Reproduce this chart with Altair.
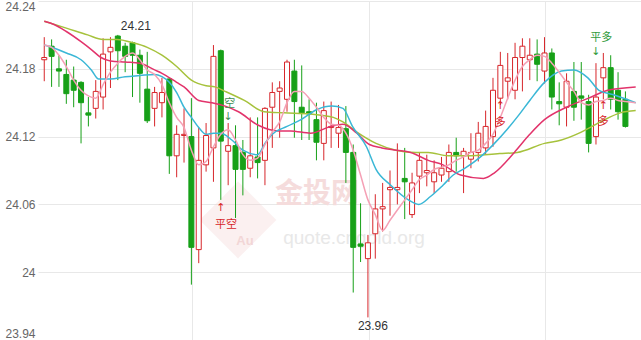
import altair as alt
import pandas as pd

# ---------------- data ----------------
opens = [24.188, 24.200, 24.180, 24.175, 24.170, 24.168, 24.141, 24.145, 24.155, 24.195,
         24.209, 24.200, 24.203, 24.192, 24.162, 24.145, 24.150, 24.171, 24.103, 24.121,
         24.120, 24.020, 24.095, 24.110, 24.196, 24.107, 24.112, 24.106, 24.092, 24.102,
         24.099, 24.146, 24.160, 24.153, 24.178, 24.146, 24.142, 24.135, 24.114, 24.128,
         24.123, 24.127, 24.106, 24.025, 24.012, 24.034, 24.056, 24.073, 24.073, 24.083,
         24.051, 24.085, 24.088, 24.080, 24.086, 24.089, 24.106, 24.103, 24.100, 24.106,
         24.110, 24.120, 24.154, 24.169, 24.161, 24.190, 24.188, 24.193, 24.178, 24.194,
         24.151, 24.146, 24.160, 24.156, 24.151, 24.120, 24.172, 24.181, 24.161, 24.153]
highs = [24.208, 24.206, 24.192, 24.188, 24.182, 24.169, 24.155, 24.170, 24.207, 24.208,
         24.210, 24.203, 24.204, 24.197, 24.195, 24.164, 24.172, 24.172, 24.130, 24.145,
         24.154, 24.128, 24.132, 24.201, 24.197, 24.132, 24.130, 24.117, 24.137, 24.137,
         24.146, 24.168, 24.169, 24.188, 24.188, 24.183, 24.153, 24.150, 24.151, 24.151,
         24.148, 24.147, 24.113, 24.061, 24.033, 24.069, 24.079, 24.090, 24.114, 24.110,
         24.088, 24.106, 24.104, 24.099, 24.102, 24.113, 24.119, 24.110, 24.123, 24.133,
         24.143, 24.172, 24.195, 24.194, 24.203, 24.207, 24.207, 24.206, 24.208, 24.198,
         24.168, 24.176, 24.186, 24.186, 24.157, 24.185, 24.194, 24.192, 24.177, 24.160]
lows = [24.169, 24.164, 24.164, 24.149, 24.146, 24.114, 24.129, 24.136, 24.144, 24.163,
        24.170, 24.177, 24.155, 24.150, 24.132, 24.129, 24.137, 24.087, 24.084, 24.097,
        23.989, 24.008, 24.089, 24.080, 24.064, 24.077, 24.048, 24.068, 24.084, 24.083,
        24.077, 24.110, 24.119, 24.142, 24.119, 24.117, 24.117, 24.099, 24.099, 24.110,
        24.110, 24.079, 23.982, 24.009, 23.960, 24.012, 24.036, 24.050, 24.060, 24.047,
        24.048, 24.070, 24.076, 24.070, 24.080, 24.080, 24.089, 24.070, 24.092, 24.098,
        24.104, 24.111, 24.148, 24.153, 24.153, 24.160, 24.170, 24.169, 24.167, 24.144,
        24.130, 24.129, 24.134, 24.135, 24.106, 24.113, 24.153, 24.144, 24.135, 24.128]
closes = [24.190, 24.191, 24.178, 24.158, 24.161, 24.150, 24.139, 24.160, 24.193, 24.199,
          24.196, 24.191, 24.192, 24.176, 24.134, 24.159, 24.159, 24.103, 24.122, 24.122,
          24.022, 24.099, 24.121, 24.191, 24.116, 24.112, 24.091, 24.091, 24.103, 24.097,
          24.145, 24.159, 24.163, 24.186, 24.151, 24.141, 24.140, 24.115, 24.143, 24.129,
          24.128, 24.106, 24.022, 24.023, 24.026, 24.056, 24.058, 24.075, 24.075, 24.080,
          24.079, 24.099, 24.090, 24.088, 24.092, 24.106, 24.103, 24.107, 24.106, 24.123,
          24.129, 24.161, 24.183, 24.172, 24.190, 24.200, 24.192, 24.184, 24.194, 24.155,
          24.149, 24.169, 24.146, 24.154, 24.114, 24.155, 24.181, 24.153, 24.142, 24.129]

# moving-average lines (position in candle units, price)
ma5_idx = list(range(80)) + [80.4]
ma5_vals = [24.201, 24.199, 24.192, 24.182, 24.170, 24.161, 24.156, 24.154, 24.166, 24.177,
            24.185, 24.191, 24.194, 24.188, 24.179, 24.175, 24.166, 24.150, 24.137, 24.128,
            24.108, 24.095, 24.098, 24.111, 24.122, 24.126, 24.117, 24.104, 24.099, 24.101,
            24.113, 24.124, 24.133, 24.150, 24.160, 24.160, 24.154, 24.146, 24.137, 24.131,
            24.130, 24.123, 24.108, 24.086, 24.064, 24.051, 24.037, 24.046, 24.055, 24.064,
            24.073, 24.082, 24.086, 24.091, 24.093, 24.095, 24.099, 24.102, 24.106, 24.108,
            24.114, 24.122, 24.137, 24.154, 24.170, 24.182, 24.188, 24.192, 24.191, 24.185,
            24.177, 24.168, 24.160, 24.150, 24.148, 24.151, 24.152, 24.154, 24.152, 24.151,
            24.150]
ma10_idx = [0, 1, 3, 5, 6.4, 7.4, 9, 11, 13, 15, 16, 17, 18, 19, 20, 21, 22, 23, 24, 25.5,
            27, 29, 30, 31, 33, 34.9, 37.1, 39.1, 40.6, 41.9, 43.8, 45.1, 47.1, 49.5, 50.9,
            52.5, 54.2, 55.6, 57.2, 59.3, 61.2, 63, 64.5, 66, 68, 70.3, 72, 73.9, 75.4, 77.4, 80.4]
ma10_vals = [24.201, 24.199, 24.194, 24.188, 24.179, 24.171, 24.171, 24.173, 24.174, 24.175,
             24.173, 24.168, 24.159, 24.146, 24.137, 24.128, 24.122, 24.123, 24.123, 24.117,
             24.108, 24.104, 24.114, 24.122, 24.129, 24.135, 24.144, 24.147, 24.145, 24.129,
             24.111, 24.091, 24.077, 24.064, 24.060, 24.067, 24.077, 24.086, 24.092, 24.102,
             24.114, 24.127, 24.139, 24.152, 24.168, 24.178, 24.179, 24.172, 24.161, 24.157,
             24.150]
ma20_idx = [0, 1.4, 3, 5, 6.4, 7.7, 9, 11, 13, 15, 16, 18, 19, 21, 22.8, 24.6, 26.4, 29.1,
            31.8, 33.5, 36.2, 38.9, 40.6, 42.5, 44.2, 45.9, 47.9, 49.8, 52.2, 54.2, 56.6, 59.7,
            61.2, 63.9, 66, 68, 71, 74, 76.6, 80.4]
ma20_vals = [24.222, 24.219, 24.213, 24.204, 24.197, 24.190, 24.187, 24.186, 24.185, 24.179,
             24.176, 24.168, 24.164, 24.152, 24.150, 24.147, 24.142, 24.130, 24.125, 24.125,
             24.123, 24.129, 24.131, 24.123, 24.113, 24.110, 24.108, 24.106, 24.099, 24.095,
             24.086, 24.083, 24.088, 24.106, 24.122, 24.135, 24.146, 24.154, 24.161, 24.164]
ma30_idx = [0, 3, 5.9, 8, 9.9, 12.1, 14, 16, 18, 20, 22, 23.2, 24.6, 27.2, 29.9, 32.6, 36.2,
            39.3, 40.6, 42.5, 45.1, 47.8, 50.5, 52.2, 54.9, 57.6, 61.9, 64.3, 68, 70.3, 73,
            75.6, 78.3, 80.4]
ma30_vals = [24.222, 24.216, 24.210, 24.206, 24.206, 24.203, 24.199, 24.192, 24.182, 24.170,
             24.165, 24.164, 24.160, 24.152, 24.142, 24.141, 24.140, 24.137, 24.133, 24.124,
             24.114, 24.108, 24.106, 24.106, 24.103, 24.103, 24.105, 24.106, 24.114, 24.117,
             24.124, 24.133, 24.141, 24.143]

# trade signals
sig_labels = ["空", "平空", "多", "多", "平多"]
sig_label_idx = [25.2, 24.7, 62.0, 76.0, 75.7]
sig_label_price = [24.149, 24.042, 24.132, 24.133, 24.207]
sig_arrows = ["↓", "↑", "↑", "↑", "↓"]
sig_arrow_idx = [25.0, 24.0, 62.0, 76.0, 75.0]
sig_arrow_price = [24.137, 24.057, 24.147, 24.147, 24.195]
sig_colors = ["#3f8f55", "#d7262b", "#d7262b", "#d7262b", "#2f9a3a"]

y_ticks = [23.94, 24.0, 24.06, 24.12, 24.18, 24.24]
x_grid = [20.1, 44.1, 68.1]

# ---------------- styles ----------------
RED = "#d7262b"
GREEN = "#17a018"
GRID = "#e8e8e8"

n = len(opens)
candles = pd.DataFrame({"idx": list(range(n)), "open": opens, "high": highs,
                        "low": lows, "close": closes})
candles["dir"] = ["up" if c >= o else "down" for o, c in zip(opens, closes)]

xscale = alt.Scale(domain=[-0.17, 80.44], nice=False, zero=False)
yscale = alt.Scale(domain=[23.94, 24.24], nice=False, zero=False)
xaxis = alt.Axis(values=x_grid, labels=False, ticks=False, domain=False, grid=True,
                 gridColor=GRID, title=None)
yaxis = alt.Axis(values=y_ticks, format="~f", labelFlush=True, ticks=False, domain=False,
                 grid=True, gridColor=GRID, labelPadding=3, labelFont="Liberation Sans",
                 labelFontSize=12, labelColor="#666666", title=None)


def X(field="idx"):
    return alt.X(f"{field}:Q", scale=xscale, axis=xaxis)


def Y(field):
    return alt.Y(f"{field}:Q", scale=yscale, axis=yaxis)


dir_stroke = alt.Stroke("dir:N", scale=alt.Scale(domain=["up", "down"], range=[RED, GREEN]),
                        legend=None)
dir_fill = alt.Fill("dir:N", scale=alt.Scale(domain=["up", "down"], range=["#ffffff", GREEN]),
                    legend=None)

one = pd.DataFrame({"k": [0]})

# watermark
wm_diamond = alt.Chart(one).mark_point(shape="diamond", filled=True, size=5900,
                                        color="#f0c8c8", opacity=0.28).encode(
    x=alt.value(200), y=alt.value(219))
wm_au = alt.Chart(one).mark_text(text="Au", font="Liberation Sans", fontSize=13,
                                  fontWeight="bold", color="#f2d6d6").encode(
    x=alt.value(207), y=alt.value(240))
wm_cn = alt.Chart(one).mark_text(text="金投网", font="Noto Sans CJK SC", fontSize=28,
                                  fontWeight="bold", color="#f5dcdc").encode(
    x=alt.value(279), y=alt.value(194))
wm_url = alt.Chart(one).mark_text(text="quote.cngold.org", font="Liberation Sans",
                                   fontSize=19, color="#e8e8e8").encode(
    x=alt.value(316), y=alt.value(237))

wicks = alt.Chart(candles).mark_rule(strokeWidth=1).encode(
    x=X(), y=Y("low"), y2="high", stroke=dir_stroke)
bodies = alt.Chart(candles).mark_bar(size=5, strokeWidth=1).encode(
    x=X(), y=Y("open"), y2="close", fill=dir_fill, stroke=dir_stroke)


def ma_line(idx, vals, color):
    df = pd.DataFrame({"idx": idx, "price": vals})
    return alt.Chart(df).mark_line(color=color, strokeWidth=1.5,
                                   interpolate="monotone").encode(x=X(), y=Y("price"))


ma30 = ma_line(ma30_idx, ma30_vals, "#a6c23c")
ma20 = ma_line(ma20_idx, ma20_vals, "#e2336b")
ma10 = ma_line(ma10_idx, ma10_vals, "#3ab7d6")
ma5 = ma_line(ma5_idx, ma5_vals, "#f5a0b5")

# extreme labels
i_max = max(range(n), key=lambda i: highs[i])
i_min = min(range(n), key=lambda i: lows[i])
max_df = pd.DataFrame({"idx": [i_max], "price": [highs[i_max]],
                       "label": [f"{highs[i_max]:.2f}"]})
min_df = pd.DataFrame({"idx": [i_min], "price": [lows[i_min]],
                       "label": [f"{lows[i_min]:.2f}"]})
max_lbl = alt.Chart(max_df).mark_text(font="Liberation Sans", fontSize=12, color="#333333",
                                      dx=18, dy=-9).encode(x=X(), y=Y("price"), text="label:N")
min_lbl = alt.Chart(min_df).mark_text(font="Liberation Sans", fontSize=12, color="#333333",
                                      dx=5, dy=9).encode(x=X(), y=Y("price"), text="label:N")

sig_df = pd.DataFrame({"idx": sig_label_idx, "price": sig_label_price,
                       "label": sig_labels, "col": sig_colors})
arr_df = pd.DataFrame({"idx": sig_arrow_idx, "price": sig_arrow_price,
                       "label": sig_arrows, "col": sig_colors})
sig_text = alt.Chart(sig_df).mark_text(font="Noto Sans CJK SC", fontSize=11).encode(
    x=X(), y=Y("price"), text="label:N", color=alt.Color("col:N", scale=None))
sig_arrow = alt.Chart(arr_df).mark_text(font="DejaVu Sans", fontSize=11).encode(
    x=X(), y=Y("price"), text="label:N", color=alt.Color("col:N", scale=None))

chart = alt.layer(
    wm_diamond, wm_au, wm_cn, wm_url,
    wicks, bodies, ma30, ma20, ma10, ma5,
    max_lbl, min_lbl, sig_text, sig_arrow,
).properties(
    width=603, height=339,
    padding={"left": 38, "top": 1, "right": 0, "bottom": 0},
    autosize=alt.AutoSizeParams(type="none"),
    background="#ffffff",
).configure_view(stroke=None)

chart.save("out.html", embed_options={"renderer": "svg", "actions": False})
